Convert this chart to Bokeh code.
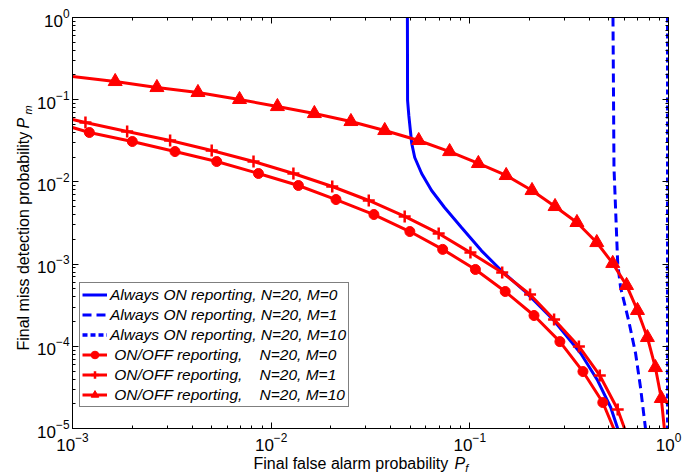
import math
from bokeh.plotting import figure
from bokeh.layouts import row, column
from bokeh.models import (Range1d, LogAxis, FixedTicker, Legend,
                          LegendItem, CustomJSTickFormatter)
from bokeh.core.properties import value
from bokeh.embed import file_html
from bokeh.resources import INLINE

# ---------------- data ----------------
# Always ON reporting, N=20, M=0  (blue solid)
on_m0_pf = [0.0485, 0.0486, 0.0493, 0.0502, 0.0510, 0.0528, 0.0572, 0.0642, 0.0746,
            0.0908, 0.1143, 0.1439, 0.1875, 0.265, 0.362, 0.440, 0.512, 0.555]
on_m0_pm = [1.0, 0.098, 0.0643, 0.0422, 0.0293, 0.0198, 0.01265, 0.00786, 0.00488,
            0.00279, 0.00146, 8.35e-4, 4.77e-4, 2.06e-4, 8.17e-5, 3.83e-5, 1.8e-5, 1.0e-5]
# Always ON reporting, N=20, M=1  (blue dashed)
on_m1_pf = [0.5255, 0.5316, 0.555, 0.574, 0.630, 0.683, 0.723, 0.766]
on_m1_pm = [1.0, 0.01496, 1.02e-3, 5.19e-4, 2.06e-4, 8.17e-5, 3.15e-5, 1.0e-5]
# Always ON reporting, N=20, M=10 (blue dotted)
on_m10_pf = [0.991, 0.991]
on_m10_pm = [1.0, 1.0e-5]

# ON/OFF reporting, N=20, M=0 (red, circles); first/last = curve ends at the frame
onoff_m0_pf = [1e-3, 1.216e-3, 2.0e-3, 3.28e-3, 5.32e-3, 8.63e-3, 0.01371, 0.0212, 0.0329,
               0.0499, 0.0730, 0.1067, 0.1507, 0.2104, 0.284, 0.371, 0.467, 0.53]
onoff_m0_pm = [0.0459, 0.0399, 0.031, 0.0234, 0.0177, 0.01265, 0.00904, 0.0061, 0.00401,
               0.00249, 0.00151, 8.6e-4, 4.64e-4, 2.37e-4, 1.14e-4, 4.93e-5, 2.07e-5, 1.0e-5]
# ON/OFF reporting, N=20, M=1 (red, plus)
onoff_m1_pf = [1e-3, 1.162e-3, 1.884e-3, 3.1e-3, 5.02e-3, 8.15e-3, 0.01294, 0.0203, 0.031,
               0.047, 0.0697, 0.1007, 0.1455, 0.201, 0.2655, 0.354, 0.451, 0.555, 0.601]
onoff_m1_pm = [0.0574, 0.0528, 0.0410, 0.0319, 0.0241, 0.0177, 0.01265, 0.00879, 0.00594,
               0.00380, 0.00236, 0.00138, 7.9e-4, 4.27e-4, 2.12e-4, 9.95e-5, 4.42e-5, 1.70e-5, 1.0e-5]
# ON/OFF reporting, N=20, M=10 (red, triangles)
onoff_m10_pf = [1e-3, 1.64e-3, 2.66e-3, 4.28e-3, 6.93e-3, 0.01075, 0.0165, 0.0252, 0.0373,
                0.0553, 0.0791, 0.1104, 0.1524, 0.2056, 0.2685, 0.346, 0.4355, 0.524,
                0.615, 0.698, 0.783, 0.859, 0.92, 0.953]
onoff_m10_pm = [0.1915, 0.1665, 0.1407, 0.1224, 0.1006, 0.0826, 0.0679, 0.0543, 0.0422,
                0.0319, 0.0234, 0.01675, 0.01197, 0.00786, 0.00502, 0.00321, 0.00183, 0.00102,
                5.5e-4, 2.73e-4, 1.28e-4, 5.52e-5, 2.32e-5, 1.0e-5]

legend_labels = [
    "Always ON reporting, N=20, M=0",
    "Always ON reporting, N=20, M=1",
    "Always ON reporting, N=20, M=10",
    "\u00a0ON/OFF reporting,\u00a0\u00a0\u00a0\u00a0N=20, M=0",
    "\u00a0ON/OFF reporting,\u00a0\u00a0\u00a0\u00a0N=20, M=1",
    "\u00a0ON/OFF reporting,\u00a0\u00a0\u00a0\u00a0N=20, M=10",
]
x_title = "Final false alarm probability"
y_title = "Final miss detection probability"
x_major = [1e-3, 1e-2, 1e-1, 1.0]
y_major = [1e-5, 1e-4, 1e-3, 1e-2, 1e-1, 1.0]

# ---------------- layout sizes ----------------
FONT = "Liberation Sans"
BLUE = "#0000ff"
RED = "#ff0000"
LEFT_W = 34
TOTAL_W, TOTAL_H = 697, 474
BOTTOM_H = 20
MAIN_W = TOTAL_W - LEFT_W
MAIN_H = TOTAL_H - BOTTOM_H

p = figure(width=MAIN_W, height=MAIN_H, x_axis_type="log", y_axis_type="log",
           x_range=Range1d(1e-3, 1.0), y_range=Range1d(1e-5, 1.0),
           output_backend="svg", toolbar_location=None,
           min_border_left=69 - LEFT_W, min_border_right=29, min_border_top=17,
           min_border_bottom=MAIN_H - 428)
p.xgrid.visible = False
p.ygrid.visible = False
p.outline_line_color = "black"
p.outline_line_width = 1
p.background_fill_color = "white"
p.border_fill_color = "white"

def minors(majors):
    out = []
    for m in majors[:-1]:
        for k in range(2, 10):
            out.append(m * k)
    return out

def style_axis(ax, labels=True):
    ax.axis_line_color = "black"
    ax.major_tick_in = 6
    ax.major_tick_out = 0
    ax.minor_tick_in = 3
    ax.minor_tick_out = 0
    ax.major_tick_line_color = "black"
    ax.minor_tick_line_color = "black"
    if labels:
        ax.major_label_text_font = FONT
        ax.major_label_text_font_size = "17px"
        ax.major_label_text_color = "black"
    else:
        ax.formatter = CustomJSTickFormatter(code="return ''")
        ax.major_label_text_font_size = "0px"
        ax.major_label_standoff = 0

p.xaxis.ticker = FixedTicker(ticks=x_major, minor_ticks=minors(x_major))
p.yaxis.ticker = FixedTicker(ticks=y_major, minor_ticks=minors(y_major))
style_axis(p.xaxis[0])
style_axis(p.yaxis[0])
p.xaxis.major_label_standoff = 4
p.yaxis.major_label_standoff = 3

top = LogAxis(ticker=FixedTicker(ticks=x_major, minor_ticks=minors(x_major)))
right = LogAxis(ticker=FixedTicker(ticks=y_major, minor_ticks=minors(y_major)))
style_axis(top, labels=False)
style_axis(right, labels=False)
p.add_layout(top, "above")
p.add_layout(right, "right")

# ---------------- series ----------------
r_b0 = p.line(on_m0_pf, on_m0_pm, line_color=BLUE, line_width=3)
r_b1 = p.line(on_m1_pf, on_m1_pm, line_color=BLUE, line_width=3, line_dash="9 5")
r_b10 = p.line(on_m10_pf, on_m10_pm, line_color=BLUE, line_width=3.5, line_dash="5 3")

r_c_l = p.line(onoff_m0_pf, onoff_m0_pm, line_color=RED, line_width=3)
r_c_m = p.scatter(onoff_m0_pf[1:-1], onoff_m0_pm[1:-1], marker="circle", size=10,
                  fill_color=RED, line_color=RED)
r_p_l = p.line(onoff_m1_pf, onoff_m1_pm, line_color=RED, line_width=3)
r_p_m = p.scatter(onoff_m1_pf[1:-1], onoff_m1_pm[1:-1], marker="cross", size=12,
                  line_color=RED, line_width=2.5)
r_t_l = p.line(onoff_m10_pf, onoff_m10_pm, line_color=RED, line_width=3)
r_t_m = p.scatter(onoff_m10_pf[1:-1], onoff_m10_pm[1:-1], marker="triangle", size=14,
                  fill_color=RED, line_color=RED)

items = [
    LegendItem(label=legend_labels[0], renderers=[r_b0]),
    LegendItem(label=legend_labels[1], renderers=[r_b1]),
    LegendItem(label=legend_labels[2], renderers=[r_b10]),
    LegendItem(label=legend_labels[3], renderers=[r_c_l, r_c_m]),
    LegendItem(label=legend_labels[4], renderers=[r_p_l, r_p_m]),
    LegendItem(label=legend_labels[5], renderers=[r_t_l, r_t_m]),
]
legend = Legend(items=items, location=(7, 21), orientation="vertical",
                label_text_font=FONT, label_text_font_style="italic",
                label_text_font_size="15.5px", label_text_color="black",
                glyph_width=25, glyph_height=19, label_height=19, spacing=1,
                padding=2, margin=0, label_standoff=3,
                border_line_color="black", border_line_width=1,
                background_fill_color="white", background_fill_alpha=1.0)
p.add_layout(legend, "center")

# ---------------- axis title strips (text in pixel space of each strip) ----------------
def strip(w, h):
    s = figure(width=w, height=h, x_range=Range1d(0, w), y_range=Range1d(0, h),
               output_backend="svg", toolbar_location=None,
               x_axis_location=None, y_axis_location=None, min_border=0)
    s.xgrid.visible = False
    s.ygrid.visible = False
    s.outline_line_color = None
    s.background_fill_color = "white"
    s.border_fill_color = "white"
    return s

left = strip(LEFT_W, TOTAL_H)
# page y -> strip data y = TOTAL_H - page_y
left.text(x=[23], y=[TOTAL_H - 350], text=[y_title], angle=math.pi / 2,
          text_align="left", text_baseline="alphabetic", text_font=value(FONT),
          text_font_size="16px", text_color="black")
left.text(x=[23], y=[TOTAL_H - 128], text=["P"], angle=math.pi / 2,
          text_align="left", text_baseline="alphabetic", text_font=value(FONT),
          text_font_style="italic", text_font_size="16px", text_color="black")
left.text(x=[27], y=[TOTAL_H - 114], text=["m"], angle=math.pi / 2,
          text_align="left", text_baseline="alphabetic", text_font=value(FONT),
          text_font_style="italic", text_font_size="11px", text_color="black")

bottom = strip(MAIN_W, BOTTOM_H)
# page x -> strip x = page_x - LEFT_W ; page y -> strip y = TOTAL_H - page_y
bottom.text(x=[452 - LEFT_W], y=[TOTAL_H - 463], text=[x_title],
            text_align="right", text_baseline="alphabetic", text_font=value(FONT),
            text_font_size="16px", text_color="black")
bottom.text(x=[459 - LEFT_W], y=[TOTAL_H - 463], text=["P"],
            text_align="left", text_baseline="alphabetic", text_font=value(FONT),
            text_font_style="italic", text_font_size="16px", text_color="black")
bottom.text(x=[471 - LEFT_W], y=[TOTAL_H - 467], text=["f"],
            text_align="left", text_baseline="alphabetic", text_font=value(FONT),
            text_font_style="italic", text_font_size="11px", text_color="black")

layout = row(left, column(p, bottom, spacing=0), spacing=0)
open("out.html", "w").write(file_html(layout, INLINE))
